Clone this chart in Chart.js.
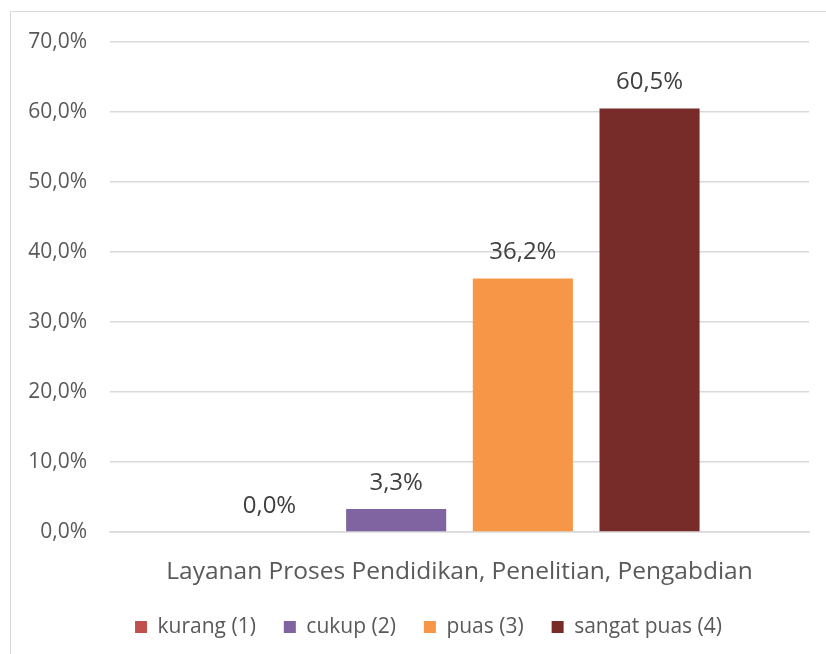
<!DOCTYPE html>
<html>
<head>
<meta charset="utf-8">
<script src="https://cdn.jsdelivr.net/npm/chart.js@4/dist/chart.umd.min.js"></script>
<style>
  html, body { margin: 0; padding: 0; background: #fff; overflow: hidden; }
  #frame { position: absolute; left: 10px; top: 11px; width: 840px; height: 680px; border: 1px solid #d9d9d9; }
  #wrap { position: absolute; left: 0; top: 0; width: 826px; height: 654px; }
</style>
</head>
<body>
<div id="frame"></div>
<div id="wrap"><canvas id="chart"></canvas></div>
<script>
const categories = ["Layanan Proses Pendidikan, Penelitian, Pengabdian"];
const seriesNames = ["kurang (1)", "cukup (2)", "puas (3)", "sangat puas (4)"];
const kurang = [0.0];
const cukup = [3.3];
const puas = [36.2];
const sangatPuas = [60.5];
const colors = ["#C0504D", "#8064A2", "#F79646", "#772C2A"];
const yTicks = [0, 10, 20, 30, 40, 50, 60, 70];

const fmt = v => v.toFixed(1).replace(".", ",") + "%";

// draws the value above each bar
const barLabels = {
  id: "barLabels",
  afterDatasetsDraw(c) {
    const ctx = c.ctx;
    ctx.save();
    ctx.font = "24px 'Open Sans'";
    ctx.fillStyle = "#404040";
    ctx.textAlign = "center";
    ctx.textBaseline = "middle";
    c.data.datasets.forEach((ds, i) => {
      c.getDatasetMeta(i).data.forEach((bar, j) => {
        ctx.fillText(fmt(ds.data[j]), bar.x, bar.y - 26);
      });
    });
    ctx.restore();
  }
};

// legend in the original is centred on the plot, not the whole canvas
const legendShift = {
  id: "legendShift",
  afterLayout(c) {
    c.legend.left += 24;
    c.legend.right += 24;
  }
};

const seriesData = [kurang, cukup, puas, sangatPuas];

new Chart(document.getElementById("chart"), {
  type: "bar",
  data: {
    labels: categories,
    datasets: seriesNames.map((n, i) => ({
      label: n,
      data: seriesData[i],
      backgroundColor: colors[i],
      categoryPercentage: 0.725,
      barPercentage: 0.79
    }))
  },
  options: {
    responsive: true,
    maintainAspectRatio: false,
    animation: false,
    layout: { padding: { top: 42, right: 17, left: 0, bottom: 6.5 } },
    plugins: {
      tooltip: { enabled: false },
      legend: {
        position: "bottom",
        labels: {
          boxWidth: 12, boxHeight: 12, padding: 28,
          color: "#595959",
          font: { family: "'Open Sans'", size: 21 }
        }
      }
    },
    scales: {
      x: {
        grid: { display: false },
        border: { color: "#d9d9d9", width: 1.5 },
        ticks: { color: "#595959", padding: 17, font: { family: "'Open Sans'", size: 24.5 } },
        afterFit(s) { s.height = 56.5; }
      },
      y: {
        min: 0, max: 70,
        afterBuildTicks(s) { s.ticks = yTicks.map(v => ({ value: v })); },
        grid: { color: "#d9d9d9", lineWidth: 1.5, drawTicks: false },
        border: { display: false },
        ticks: { color: "#595959", padding: 23, font: { family: "'Open Sans'", size: 21 }, callback: v => fmt(v) },
        afterFit(s) { s.width = 110; }
      }
    }
  },
  plugins: [barLabels, legendShift]
});
</script>
</body>
</html>
